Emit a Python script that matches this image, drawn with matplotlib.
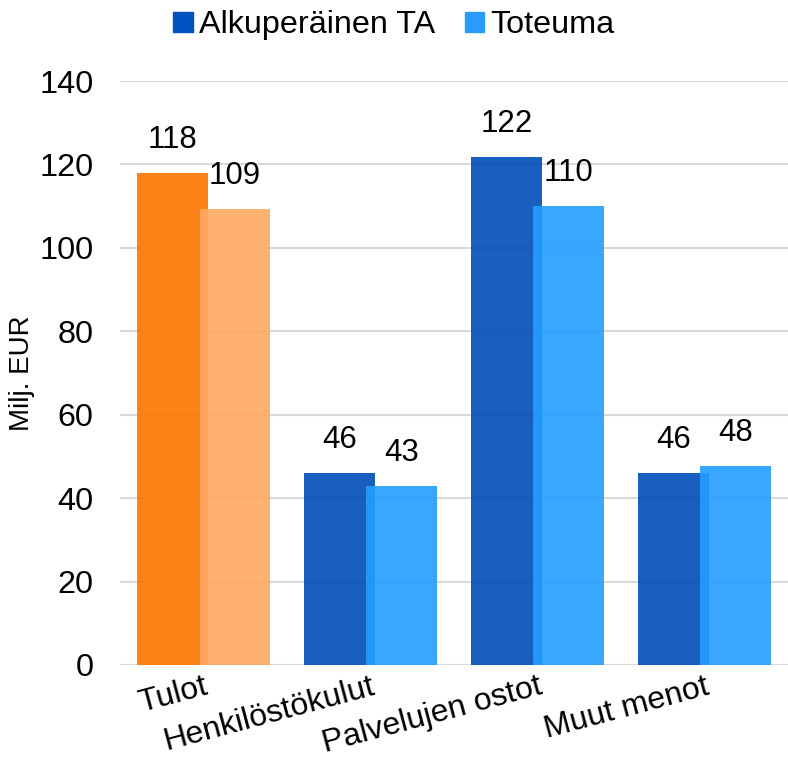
import matplotlib
matplotlib.use("Agg")
import matplotlib.pyplot as plt
from matplotlib.patches import Patch
import numpy as np

plt.rcParams['font.family'] = ['Liberation Sans', 'DejaVu Sans']

categories = ["Tulot", "Henkilöstökulut", "Palvelujen ostot", "Muut menot"]
series_names = ["Alkuperäinen TA", "Toteuma"]
budget = [118.0, 46.0, 121.7, 46.1]
actual = [109.4, 42.8, 110.1, 47.6]
budget_labels = ["118", "46", "122", "46"]
actual_labels = ["109", "43", "110", "48"]

c_budget = ['#FF7500', '#004DB9', '#004DB9', '#004DB9']
c_actual = ['#FFA963', '#249EFF', '#249EFF', '#249EFF']

fig = plt.figure(figsize=(7.88, 7.62), dpi=100)
ax = fig.add_axes([0.1523, 0.1273, 0.8477, 0.7664])

x = np.arange(len(categories))
w = 0.42
off = 0.186
ax.bar(x - off, budget, w, color=c_budget, alpha=0.9, zorder=2, linewidth=0)
ax.bar(x + off, actual, w, color=c_actual, alpha=0.9, zorder=3, linewidth=0)

for xi, v, t in zip(x - off, budget, budget_labels):
    ax.annotate(t, (xi, v), xytext=(0, 13), textcoords='offset points',
                ha='center', va='bottom', fontsize=22.5, color='#000000')
for xi, v, t in zip(x + off, actual, actual_labels):
    ax.annotate(t, (xi, v), xytext=(0, 13), textcoords='offset points',
                ha='center', va='bottom', fontsize=22.5, color='#000000')

ax.set_xlim(-0.5, 3.5)
ax.set_ylim(0, 140)
ax.set_yticks(np.arange(0, 141, 20))
ax.yaxis.grid(True, color='#D9D9D9', linewidth=1.5, zorder=0)
ax.set_axisbelow(True)
for s in ax.spines.values():
    s.set_visible(False)
ax.tick_params(axis='both', length=0, labelsize=23.3, colors='#000000')
ax.tick_params(axis='y', pad=19)
ax.set_xticks(x)
ax.set_xticklabels(categories, rotation=15, ha='right', rotation_mode='anchor',
                   fontsize=23)
ax.tick_params(axis='x', pad=5)
ax.set_ylabel("Milj. EUR", fontsize=20, labelpad=3)

handles = [Patch(color='#0050C0'), Patch(color='#2A9CFF')]
fig.legend(handles, series_names, loc='upper center', bbox_to_anchor=(0.5, 1.012),
           ncol=2, frameon=False, fontsize=23.3, handlelength=0.6, handleheight=0.6,
           handletextpad=0.2, columnspacing=0.9, borderaxespad=0.2)

fig.savefig("out.png", dpi=100)
